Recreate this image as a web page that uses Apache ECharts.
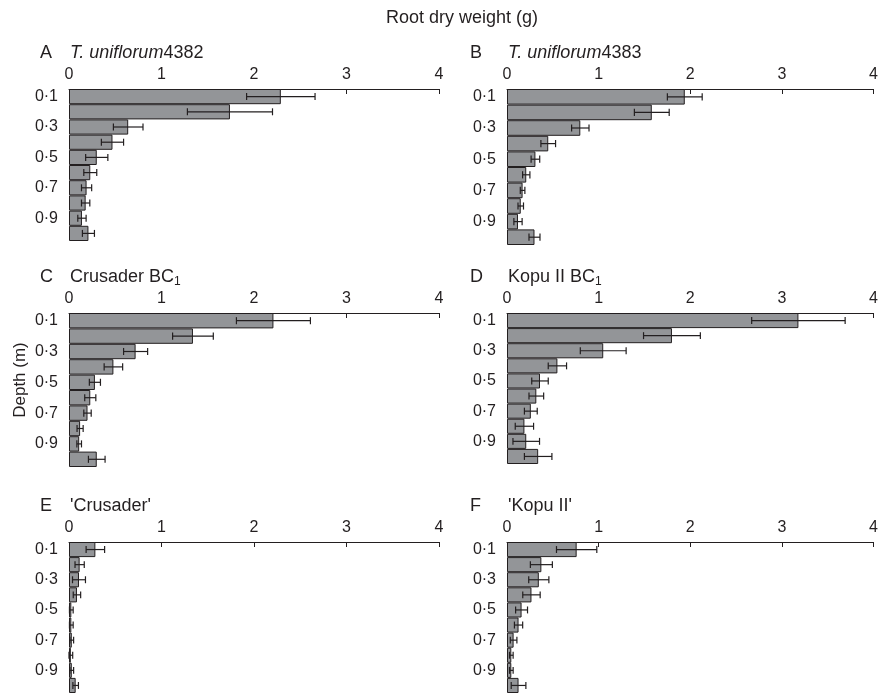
<!DOCTYPE html>
<html>
<head>
<meta charset="utf-8">
<title>Root dry weight</title>
<script src="https://cdn.jsdelivr.net/npm/echarts@6/dist/echarts.min.js"></script>
<style>
  html, body { margin: 0; padding: 0; background: #fff; }
  #chart { width: 881px; height: 693px; }
</style>
</head>
<body>
<div id="chart"></div>
<script>
// depth classes (m), top to bottom
const depths = ['0·1', '0·2', '0·3', '0·4', '0·5', '0·6', '0·7', '0·8', '0·9', '1·0']

// root dry weight (g) means and error bars
const meanA = [2.29, 1.74, 0.64, 0.47, 0.30, 0.23, 0.19, 0.18, 0.14, 0.21]
const errA = [0.37, 0.46, 0.16, 0.12, 0.12, 0.07, 0.055, 0.045, 0.045, 0.065]
const meanB = [1.94, 1.58, 0.80, 0.45, 0.31, 0.21, 0.17, 0.15, 0.12, 0.30]
const errB = [0.19, 0.19, 0.095, 0.08, 0.047, 0.04, 0.025, 0.03, 0.045, 0.06]
const meanC = [2.21, 1.34, 0.72, 0.48, 0.28, 0.23, 0.20, 0.12, 0.11, 0.30]
const errC = [0.40, 0.22, 0.13, 0.10, 0.06, 0.06, 0.04, 0.033, 0.025, 0.09]
const meanD = [3.18, 1.80, 1.05, 0.55, 0.36, 0.32, 0.26, 0.19, 0.21, 0.34]
const errD = [0.51, 0.31, 0.25, 0.10, 0.09, 0.08, 0.07, 0.10, 0.145, 0.15]
const meanE = [0.285, 0.115, 0.108, 0.086, 0.025, 0.025, 0.03, 0.02, 0.03, 0.072]
const errE = [0.10, 0.05, 0.07, 0.04, 0.02, 0.02, 0.02, 0.02, 0.02, 0.03]
const meanF = [0.76, 0.375, 0.347, 0.267, 0.159, 0.126, 0.072, 0.047, 0.047, 0.126]
const errF = [0.22, 0.12, 0.11, 0.095, 0.065, 0.045, 0.036, 0.02, 0.02, 0.08]

const xMin = 0
const xMax = 4
const xStep = 1

const textColor = '#231f20'
const font = 'Liberation Sans, Arial, sans-serif'

// panel layout (px)
const panels = [
  { letter: 'A', name: '{i|T. uniflorum}{n|4382}', mean: meanA, err: errA, left: 69, top: 89, width: 370, height: 152 },
  { letter: 'B', name: '{i|T. uniflorum}{n|4383}', mean: meanB, err: errB, left: 507, top: 89, width: 372, height: 156 },
  { letter: 'C', name: '{n|Crusader BC}{s|1}', mean: meanC, err: errC, left: 69, top: 313, width: 370, height: 154 },
  { letter: 'D', name: '{n|Kopu II BC}{s|1}', mean: meanD, err: errD, left: 507, top: 313, width: 371, height: 151 },
  { letter: 'E', name: "{n|'Crusader'}", mean: meanE, err: errE, left: 69, top: 542, width: 370, height: 152 },
  { letter: 'F', name: "{n|'Kopu II'}", mean: meanF, err: errF, left: 507, top: 542, width: 371, height: 152 }
]

// 误差线
function renderError (params, api) {
  const y = api.value(2)
  const lo = api.coord([api.value(0), y])
  const hi = api.coord([api.value(1), y])
  const h = api.size([0, 1])[1] * 0.23
  const style = { stroke: '#231f20', lineWidth: 1.2 }
  return {
    type: 'group',
    children: [
      { type: 'line', shape: { x1: lo[0], y1: lo[1], x2: hi[0], y2: hi[1] }, style: style },
      { type: 'line', shape: { x1: lo[0], y1: lo[1] - h, x2: lo[0], y2: lo[1] + h }, style: style },
      { type: 'line', shape: { x1: hi[0], y1: hi[1] - h, x2: hi[0], y2: hi[1] + h }, style: style }
    ]
  }
}

let grid = []
let xAxis = []
let yAxis = []
let series = []
let title = [
  {
    text: 'Root dry weight (g)',
    left: 462,
    top: 9,
    textAlign: 'center',
    padding: 0,
    textStyle: { fontSize: 18, fontWeight: 'normal', color: textColor, fontFamily: font }
  }
]

panels.forEach((p, k) => {
  grid.push({ left: p.left, top: p.top, width: p.width, height: p.height })
  xAxis.push({
    gridIndex: k,
    type: 'value',
    position: 'top',
    min: xMin,
    max: xMax,
    interval: xStep,
    axisLine: { show: true, lineStyle: { color: '#231f20', width: 1 } },
    axisTick: { show: true, inside: true, length: 5, lineStyle: { color: '#231f20' } },
    axisLabel: { margin: 6, fontSize: 16, color: textColor, fontFamily: font },
    splitLine: { show: false }
  })
  yAxis.push({
    gridIndex: k,
    type: 'category',
    inverse: true,
    data: depths,
    axisLine: { show: false },
    axisTick: { show: false },
    axisLabel: { interval: 1, margin: 11, fontSize: 16, color: textColor, fontFamily: font, padding: [6, 0, 0, 0] }
  })
  series.push({
    type: 'bar',
    xAxisIndex: k,
    yAxisIndex: k,
    data: p.mean,
    barCategoryGap: '0%',
    itemStyle: { color: '#939598', borderColor: '#231f20', borderWidth: 1 },
    silent: true
  })
  series.push({
    type: 'custom',
    xAxisIndex: k,
    yAxisIndex: k,
    renderItem: renderError,
    encode: { x: [0, 1], y: 2 },
    clip: false,
    silent: true,
    z: 5,
    data: p.mean.map((m, i) => [Math.max(0, m - p.err[i]), m + p.err[i], i])
  })
  // 面板字母和名称
  title.push({
    text: p.letter,
    left: p.left < 300 ? 40 : 470,
    top: p.top - 47,
    padding: 0,
    textStyle: { fontSize: 18, fontWeight: 'normal', color: textColor, fontFamily: font, lineHeight: 22 }
  })
  title.push({
    text: p.name,
    left: p.left + 1,
    top: p.top - 47,
    padding: 0,
    textStyle: {
      fontSize: 18,
      fontWeight: 'normal',
      color: textColor,
      fontFamily: font,
      lineHeight: 22,
      rich: {
        i: { fontSize: 18, fontStyle: 'italic', fontWeight: 'normal', color: textColor, fontFamily: font, lineHeight: 22 },
        n: { fontSize: 18, fontWeight: 'normal', color: textColor, fontFamily: font, lineHeight: 22 },
        s: { fontSize: 12, fontWeight: 'normal', color: textColor, fontFamily: font, lineHeight: 12, verticalAlign: 'bottom' }
      }
    }
  })
})

let myChart = echarts.init(document.getElementById('chart'))
myChart.setOption({
  animation: false,
  title: title,
  graphic: [
    {
      type: 'text',
      x: 20,
      y: 380,
      rotation: Math.PI / 2,
      style: {
        text: 'Depth (m)',
        fill: textColor,
        fontSize: 17,
        fontFamily: font,
        align: 'center',
        verticalAlign: 'middle'
      }
    }
  ],
  grid: grid,
  xAxis: xAxis,
  yAxis: yAxis,
  series: series
})
</script>
</body>
</html>
